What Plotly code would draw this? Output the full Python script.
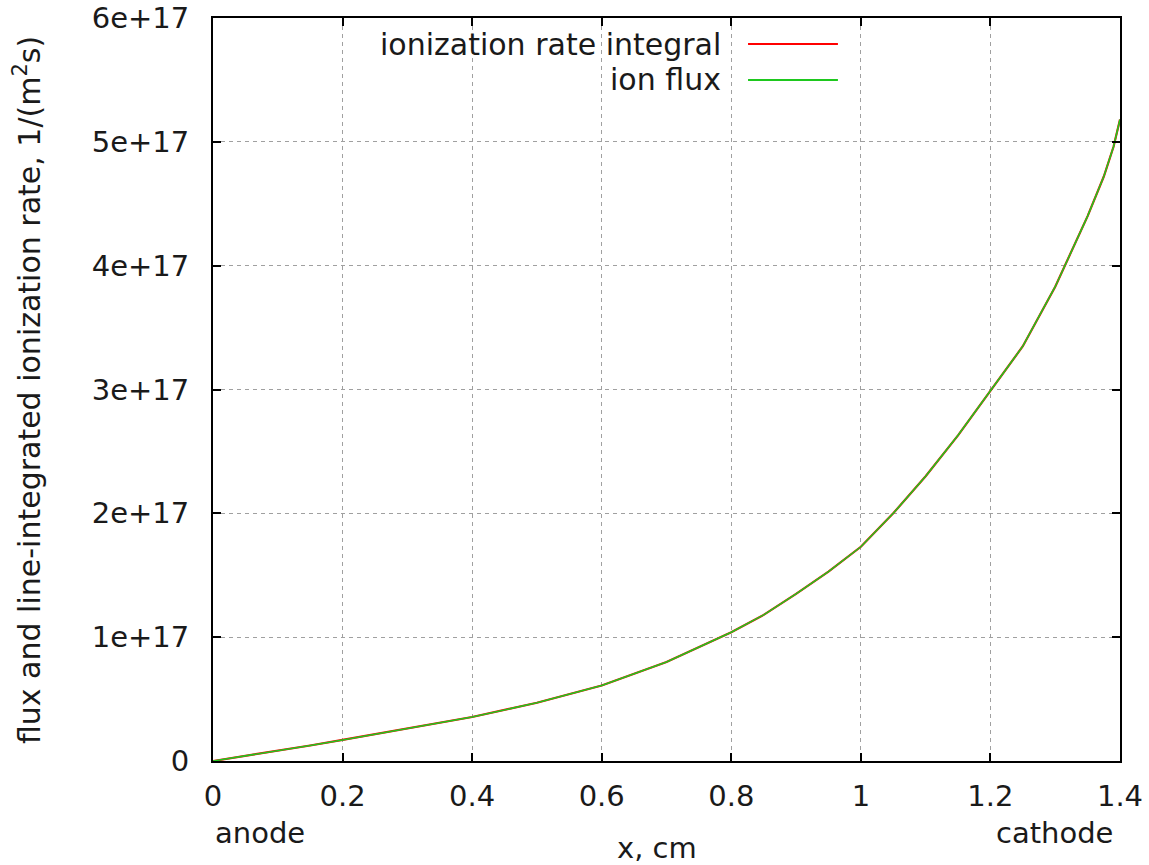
import plotly.graph_objects as go

# Data (x in cm, values in 1/(m^2 s))
x_cm = [0, 0.05, 0.1, 0.15, 0.2, 0.3, 0.4, 0.5, 0.6, 0.7, 0.8, 0.85, 0.9, 0.95,
        1.0, 1.05, 1.1, 1.15, 1.2, 1.25, 1.3, 1.35, 1.375, 1.39, 1.4]
ionization_rate_integral = [v * 1e17 for v in
    [0, 0.04, 0.08, 0.125, 0.17, 0.26, 0.355, 0.47, 0.61, 0.80, 1.04, 1.18, 1.35, 1.53,
     1.73, 2.0, 2.30, 2.63, 2.99, 3.35, 3.83, 4.40, 4.72, 4.96, 5.18]]
ion_flux = [v * 1e17 for v in
    [0, 0.04, 0.08, 0.125, 0.17, 0.26, 0.355, 0.47, 0.61, 0.80, 1.04, 1.18, 1.35, 1.53,
     1.73, 2.0, 2.30, 2.63, 2.99, 3.35, 3.83, 4.40, 4.72, 4.96, 5.18]]

x_tickvals = [0, 0.2, 0.4, 0.6, 0.8, 1.0, 1.2, 1.4]
x_ticktext = ["0", "0.2", "0.4", "0.6", "0.8", "1", "1.2", "1.4"]
y_tickvals = [0, 1e17, 2e17, 3e17, 4e17, 5e17, 6e17]
y_ticktext = ["0", "1e+17", "2e+17", "3e+17", "4e+17", "5e+17", "6e+17"]

series_names = ["ionization rate integral", "ion flux"]
series_colors = ["#ff0000", "#1ec81e"]

FONT = "DejaVu Sans"
FS = 29
TXT = "#1a1a1a"

fig = go.Figure()
fig.add_trace(go.Scatter(x=x_cm, y=ionization_rate_integral, mode="lines",
                         line=dict(color=series_colors[0], width=2.2),
                         name=series_names[0], showlegend=False))
fig.add_trace(go.Scatter(x=x_cm, y=ion_flux, mode="lines",
                         line=dict(color=series_colors[1], width=1.6),
                         name=series_names[1], showlegend=False))

axis_common = dict(
    showline=True, linecolor="black", linewidth=2, mirror="allticks",
    ticks="inside", ticklen=8, tickwidth=2, tickcolor="black",
    showgrid=True, gridcolor="#a0a0a0", gridwidth=1, griddash="4px,4px",
    zeroline=False, automargin=False,
    tickfont=dict(family=FONT, size=FS, color=TXT),
)

fig.update_xaxes(range=[0, 1.4], tickvals=x_tickvals, ticktext=x_ticktext,
                 ticklabelstandoff=8, **axis_common)
fig.update_yaxes(range=[0, 6e17], tickvals=y_tickvals, ticktext=y_ticktext,
                 ticklabelstandoff=16, **axis_common)

# legend box (covers grid lines like gnuplot key)
fig.add_shape(type="rect", xref="paper", yref="paper",
              x0=0.1345, x1=0.702, y0=0.8937, y1=0.988,
              fillcolor="white", line=dict(width=0), layer="between")

legend_y = [0.965, 0.9166]
for name, color, yy in zip(series_names, series_colors, legend_y):
    fig.add_annotation(xref="paper", yref="paper", x=0.5623, y=yy, text=name,
                       showarrow=False, xanchor="right", yanchor="middle",
                       font=dict(family=FONT, size=FS + 1, color=TXT))
    fig.add_shape(type="line", xref="paper", yref="paper",
                  x0=0.5899, x1=0.689, y0=yy, y1=yy,
                  line=dict(color=color, width=2))

# axis titles and end labels
fig.add_annotation(xref="paper", yref="paper", x=0.4895, y=-0.117, text="x, cm",
                   showarrow=False, xanchor="center", yanchor="middle",
                   font=dict(family=FONT, size=FS, color=TXT))
fig.add_annotation(xref="paper", yref="paper", x=0.0, y=-0.0969, text="anode",
                   showarrow=False, xanchor="left", yanchor="middle",
                   font=dict(family=FONT, size=FS, color=TXT))
fig.add_annotation(xref="paper", yref="paper", x=0.9945, y=-0.0969, text="cathode",
                   showarrow=False, xanchor="right", yanchor="middle",
                   font=dict(family=FONT, size=FS, color=TXT))
fig.add_annotation(xref="paper", yref="paper", x=-0.205, y=0.4993,
                   text="flux and line-integrated ionization rate, 1/(m<sup>2</sup>s)",
                   textangle=-90, showarrow=False, xanchor="center", yanchor="middle",
                   font=dict(family=FONT, size=30, color=TXT))

fig.update_layout(
    width=1149, height=865,
    margin=dict(l=213, r=29, t=18, b=104),
    plot_bgcolor="white", paper_bgcolor="white",
    showlegend=False,
)

fig.write_html("out.html")
